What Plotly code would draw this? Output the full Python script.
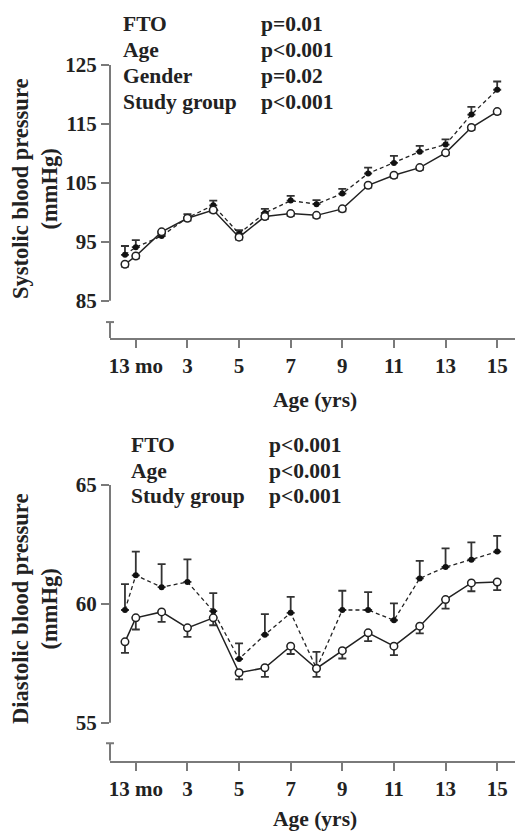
import plotly.graph_objects as go

ages = [0.58, 1, 2, 3, 4, 5, 6, 7, 8, 9, 10, 11, 12, 13, 14, 15]
x_tickvals = [1, 3, 5, 7, 9, 11, 13, 15]
x_ticktext = ["13 mo", "3", "5", "7", "9", "11", "13", "15"]

sbp_filled = [92.8, 94.1, 96.0, 99.1, 101.2, 96.4, 99.9, 102.0, 101.4, 103.2, 106.6, 108.4, 110.3, 111.5, 116.6, 120.8]
sbp_filled_err = [1.5, 1.2, 0.5, 0.6, 0.8, 0.6, 0.7, 0.8, 0.7, 0.8, 1.0, 1.2, 1.0, 0.9, 1.3, 1.4]
sbp_open = [91.2, 92.6, 96.7, 99.0, 100.4, 95.8, 99.3, 99.8, 99.5, 100.6, 104.6, 106.3, 107.6, 110.1, 114.4, 117.1]
sbp_open_err = [0.4, 0.4, 0.4, 0.4, 0.4, 0.4, 0.4, 0.4, 0.4, 0.4, 0.4, 0.4, 0.4, 0.4, 0.4, 0.4]

dbp_filled = [59.74, 61.2, 60.7, 60.92, 59.69, 57.68, 58.7, 59.62, 57.28, 59.74, 59.74, 59.31, 61.07, 61.55, 61.86, 62.2]
dbp_filled_err = [1.09, 1.0, 0.97, 0.95, 0.76, 0.66, 0.87, 0.67, 0.7, 0.81, 0.75, 0.71, 0.74, 0.78, 0.73, 0.66]
dbp_open = [58.4, 59.41, 59.66, 58.99, 59.41, 57.1, 57.31, 58.22, 57.28, 58.03, 58.78, 58.22, 59.06, 60.18, 60.88, 60.92]
dbp_open_err = [0.46, 0.49, 0.42, 0.38, 0.31, 0.28, 0.38, 0.33, 0.35, 0.33, 0.35, 0.38, 0.3, 0.38, 0.35, 0.34]

sbp_ticks = [85, 95, 105, 115, 125]
dbp_ticks = [55, 60, 65]

sbp_stats = [("FTO", "p=0.01"), ("Age", "p<0.001"), ("Gender", "p=0.02"), ("Study group", "p<0.001")]
dbp_stats = [("FTO", "p<0.001"), ("Age", "p<0.001"), ("Study group", "p<0.001")]

FONT = "Liberation Serif"
AX = "#7a7a7a"
OFFX = 8
OFFY = 8
W = 523 - OFFX
H = 832 - OFFY
LEFT = 110
PW = 523 - LEFT

fig = go.Figure()

def add_pair(filled, ferr, opn, oerr, xa, ya):
    fig.add_trace(go.Scatter(
        x=ages, y=filled, xaxis=xa, yaxis=ya, mode="lines+markers",
        line=dict(color="#222", width=1.3, dash="4px,3px"),
        marker=dict(symbol="circle", size=6, color="#111"),
        error_y=dict(type="data", symmetric=False, array=ferr, arrayminus=[0]*len(ferr),
                     color="#333", thickness=1.8, width=4),
        showlegend=False))
    fig.add_trace(go.Scatter(
        x=ages, y=opn, xaxis=xa, yaxis=ya, mode="lines+markers",
        line=dict(color="#222", width=1.5),
        marker=dict(symbol="circle", size=7.5, color="white", line=dict(color="#222", width=1.5)),
        error_y=dict(type="data", symmetric=False, array=[0]*len(oerr), arrayminus=oerr,
                     color="#333", thickness=1.8, width=4),
        showlegend=False))

add_pair(sbp_filled, sbp_filled_err, sbp_open, sbp_open_err, "x", "y")
add_pair(dbp_filled, dbp_filled_err, dbp_open, dbp_open_err, "x2", "y2")

def px_x(px):
    return (px - LEFT) / float(PW)

def px_y(py):
    return (H - (py - OFFY)) / float(H)

def pdom(top_px, bot_px):
    return [px_y(bot_px), px_y(top_px)]

tickfont = dict(family=FONT, size=21, color="#222", weight="bold")
xcommon = dict(range=[0, 16], tickvals=x_tickvals, ticktext=x_ticktext, ticks="outside",
               ticklen=8, tickwidth=2, tickcolor=AX, showline=True, linecolor=AX, linewidth=2,
               showgrid=False, zeroline=False, tickfont=tickfont, domain=[0, 1], automargin=False)
ycommon = dict(ticks="outside", ticklen=8, tickwidth=2, tickcolor=AX, showline=False,
               showgrid=False, zeroline=False, tickfont=tickfont, automargin=False)

fig.update_layout(
    width=W, height=H,
    margin=dict(l=LEFT - OFFX, r=0, t=0, b=0, autoexpand=False),
    paper_bgcolor="white", plot_bgcolor="white",
    xaxis=dict(**xcommon, anchor="y"),
    yaxis=dict(**ycommon, range=[78.7, 125], tickvals=sbp_ticks, domain=pdom(65, 338), anchor="x"),
    xaxis2=dict(**xcommon, anchor="y2"),
    yaxis2=dict(**ycommon, range=[53.4, 65], tickvals=dbp_ticks, domain=pdom(485, 760.7), anchor="x2"),
)

for xr, yr, lo, hi, cap, bottom in [("x domain", "y", 85, 125, 81.4, 78.7),
                                      ("x2 domain", "y2", 55, 65, 54.13, 53.4)]:
    fig.add_shape(type="line", xref=xr, yref=yr, x0=0, x1=0, y0=lo, y1=hi,
                  line=dict(color=AX, width=2))
    fig.add_shape(type="line", xref=xr, yref=yr, x0=0, x1=0, y0=bottom, y1=cap,
                  line=dict(color=AX, width=2))
    fig.add_shape(type="line", xref=xr, yref=yr, xsizemode="pixel", xanchor=0,
                  x0=-4, x1=4, y0=cap, y1=cap, line=dict(color=AX, width=2))

afont = dict(family=FONT, size=21.5, color="#222")

def stats(rows, x1, x2, y0, dy):
    for i, (lab, p) in enumerate(rows):
        yy = px_y(y0 + i * dy)
        fig.add_annotation(x=px_x(x1), y=yy, xref="paper", yref="paper", text="<b>%s</b>" % lab,
                           showarrow=False, xanchor="left", yanchor="middle", font=afont)
        fig.add_annotation(x=px_x(x2), y=yy, xref="paper", yref="paper", text="<b>%s</b>" % p,
                           showarrow=False, xanchor="left", yanchor="middle", font=afont)

stats(sbp_stats, 121, 259, 24, 26)
stats(dbp_stats, 129, 267, 445, 25.5)

tfont = dict(family=FONT, size=22.5, color="#222")
fig.add_annotation(x=px_x(35), y=px_y(189), xref="paper", yref="paper",
                   text="<b>Systolic blood pressure<br>(mmHg)</b>", textangle=-90, showarrow=False,
                   font=tfont, xanchor="center", yanchor="middle")
fig.add_annotation(x=px_x(35), y=px_y(609), xref="paper", yref="paper",
                   text="<b>Diastolic blood pressure<br>(mmHg)</b>", textangle=-90, showarrow=False,
                   font=tfont, xanchor="center", yanchor="middle")

fig.add_annotation(x=px_x(315), y=px_y(400), xref="paper", yref="paper",
                   text="<b>Age (yrs)</b>", showarrow=False, font=afont,
                   xanchor="center", yanchor="middle")
fig.add_annotation(x=px_x(315), y=px_y(819), xref="paper", yref="paper",
                   text="<b>Age (yrs)</b>", showarrow=False, font=afont,
                   xanchor="center", yanchor="middle")

fig.write_html("out.html")
